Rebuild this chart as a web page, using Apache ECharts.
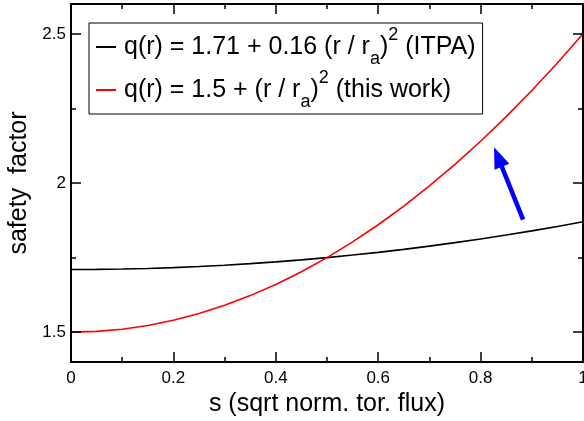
<!DOCTYPE html>
<html>
<head>
<meta charset="utf-8">
<script src="https://cdn.jsdelivr.net/npm/echarts@6/dist/echarts.min.js"></script>
<style>
  html, body { margin: 0; padding: 0; background: #fff; }
  #chart { width: 584px; height: 421px; }
</style>
</head>
<body>
<div id="chart"></div>
<script>
// Normalised radius s = sqrt(normalised toroidal flux)
const sValues = [0, 0.05, 0.1, 0.15, 0.2, 0.25, 0.3, 0.35, 0.4, 0.45, 0.5,
                 0.55, 0.6, 0.65, 0.7, 0.75, 0.8, 0.85, 0.9, 0.95, 1];
// Safety factor profile used by ITPA
const qItpa = [1.71, 1.7104, 1.7116, 1.7136, 1.7164, 1.72, 1.7244, 1.7296, 1.7356, 1.7424, 1.75,
               1.7584, 1.7676, 1.7776, 1.7884, 1.80, 1.8124, 1.8256, 1.8396, 1.8544, 1.87];
// Safety factor profile of this work
const qThisWork = [1.5, 1.5025, 1.51, 1.5225, 1.54, 1.5625, 1.59, 1.6225, 1.66, 1.7025, 1.75,
                   1.8025, 1.86, 1.9225, 1.99, 2.0625, 2.14, 2.2225, 2.31, 2.4025, 2.5];
// Tick values
const xTicks = [0, 0.2, 0.4, 0.6, 0.8, 1];
const yMajorTicks = [1.5, 2, 2.5];
const yMinorTicks = [1.75, 2.25];
// Annotation arrow (data coordinates: tail, head)
const arrowFrom = [0.883, 1.877];
const arrowTo = [0.834, 2.087];

const seriesNames = ['ITPA', 'this work'];
const legendLabels = {
  'ITPA': 'q(r) = 1.71 + 0.16 (r / r{sub|a}){sup|2} (ITPA)',
  'this work': 'q(r) = 1.5 + (r / r{sub|a}){sup|2} (this work)'
};

const FONT = '"Liberation Sans", Arial, Helvetica, sans-serif';
const AXIS_LINE = { show: true, onZero: false, lineStyle: { color: '#000', width: 2 } };
const NO_LINE = { show: false, onZero: false };
const TICK_STYLE = { color: '#000', width: 1.5 };

function pairs(xs, ys) { return xs.map((x, i) => [x, ys[i]]); }
function xFmt(v) { return (v === 0 || v === 1) ? String(v) : v.toFixed(1); }

const chart = echarts.init(document.getElementById('chart'), null, { renderer: 'canvas' });

chart.setOption({
  animation: false,
  backgroundColor: '#fff',
  textStyle: { fontFamily: FONT },
  grid: { left: 71, right: 1, top: 4, bottom: 59, containLabel: false, outerBoundsMode: 'none' },
  legend: {
    orient: 'vertical',
    left: 89,
    top: 23,
    data: seriesNames,
    icon: 'rect',
    itemWidth: 20,
    itemHeight: 2,
    itemGap: 1,
    padding: [3, 7, 3, 7],
    borderColor: '#000',
    borderWidth: 1,
    borderRadius: 0,
    selectedMode: false,
    formatter: name => legendLabels[name],
    textStyle: {
      fontFamily: FONT,
      fontSize: 25,
      lineHeight: 42,
      color: '#000',
      padding: [0, 0, 0, 3],
      rich: {
        sub: { fontFamily: FONT, fontSize: 18, lineHeight: 17, verticalAlign: 'bottom', color: '#000' },
        sup: { fontFamily: FONT, fontSize: 18, lineHeight: 17, verticalAlign: 'top', color: '#000' }
      }
    }
  },
  xAxis: [
    {
      type: 'value', position: 'bottom', min: 0, max: 1, interval: 0.2, z: 5,
      name: 's (sqrt norm. tor. flux)', nameLocation: 'middle', nameGap: 21,
      nameTextStyle: { fontFamily: FONT, fontSize: 25, color: '#000' },
      axisLine: AXIS_LINE,
      axisTick: { show: true, inside: true, length: 10, lineStyle: TICK_STYLE },
      minorTick: { show: true, splitNumber: 2, length: 5, lineStyle: TICK_STYLE },
      axisLabel: { show: true, fontFamily: FONT, fontSize: 17, color: '#000', margin: 8, formatter: xFmt,
                   customValues: xTicks },
      splitLine: { show: false }
    },
    {
      type: 'value', position: 'top', min: 0, max: 1, interval: 0.2, z: 5,
      axisLine: AXIS_LINE,
      axisTick: { show: true, inside: true, length: 10, lineStyle: TICK_STYLE },
      minorTick: { show: true, splitNumber: 2, length: 5, lineStyle: TICK_STYLE },
      axisLabel: { show: false },
      splitLine: { show: false }
    }
  ],
  yAxis: [
    {
      type: 'value', position: 'left', min: 1.4, max: 2.6, z: 5,
      name: 'safety  factor', nameLocation: 'middle', nameGap: 31, nameRotate: 90,
      nameTextStyle: { fontFamily: FONT, fontSize: 25, color: '#000' },
      axisLine: AXIS_LINE,
      axisTick: { show: true, inside: true, length: 10, customValues: yMajorTicks, lineStyle: TICK_STYLE },
      axisLabel: { show: true, fontFamily: FONT, fontSize: 17, color: '#000', margin: 5,
                   customValues: yMajorTicks, formatter: v => String(v) },
      splitLine: { show: false }
    },
    {
      type: 'value', position: 'right', min: 1.4, max: 2.6, z: 5,
      axisLine: AXIS_LINE,
      axisTick: { show: true, inside: true, length: 10, customValues: yMajorTicks, lineStyle: TICK_STYLE },
      axisLabel: { show: false },
      splitLine: { show: false }
    },
    // short ticks at the quarter values, one axis per side
    {
      type: 'value', position: 'right', min: 1.4, max: 2.6, z: 5,
      axisLine: NO_LINE,
      axisTick: { show: true, inside: true, length: 5, customValues: yMinorTicks, lineStyle: TICK_STYLE },
      axisLabel: { show: false },
      splitLine: { show: false }
    },
    {
      type: 'value', position: 'left', min: 1.4, max: 2.6, z: 5,
      axisLine: NO_LINE,
      axisTick: { show: true, inside: true, length: 5, customValues: yMinorTicks, lineStyle: TICK_STYLE },
      axisLabel: { show: false },
      splitLine: { show: false }
    }
  ],
  series: [
    {
      name: seriesNames[0], type: 'line', xAxisIndex: 0, yAxisIndex: 0,
      data: pairs(sValues, qItpa), showSymbol: false, symbol: 'none',
      color: '#000', lineStyle: { color: '#000', width: 1.6 }
    },
    {
      name: seriesNames[1], type: 'line', xAxisIndex: 0, yAxisIndex: 0,
      data: pairs(sValues, qThisWork), showSymbol: false, symbol: 'none',
      color: '#ff0000', lineStyle: { color: '#ff0000', width: 1.6 },
      markLine: {
        silent: true,
        symbol: ['none', 'triangle'],
        symbolSize: [16, 21],
        label: { show: false },
        lineStyle: { color: '#0000ff', width: 4.5, type: 'solid' },
        itemStyle: { color: '#0000ff' },
        data: [[{ coord: arrowFrom }, { coord: arrowTo }]]
      }
    }
  ]
});
</script>
</body>
</html>
